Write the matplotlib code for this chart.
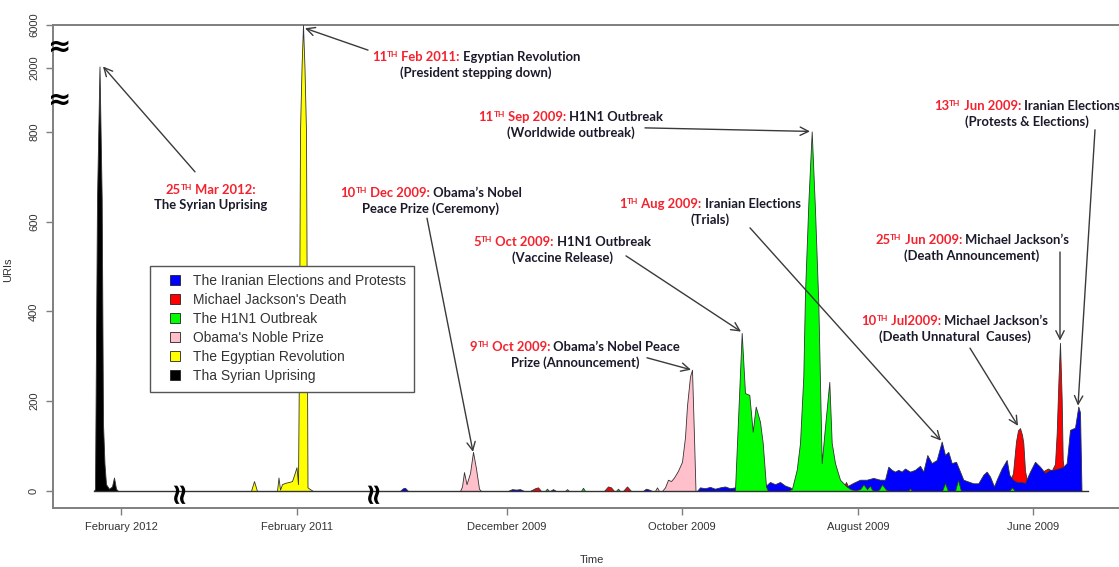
import numpy as np
import matplotlib.pyplot as plt
from matplotlib.lines import Line2D
from matplotlib.offsetbox import TextArea, HPacker, VPacker, AnnotationBbox

#---data: URIs per event, positions along the broken (reversed) time axis
syria_pos = [94, 95, 97, 99.5, 101.7, 103, 104.5, 106, 109, 112, 114, 116, 118]
syria_uris = [0, 5, 650, 2150, 650, 150, 60, 15, 5, 10, 30, 5, 0]

egypt_pos = [249, 251, 254, 257, 275, 277, 278.5, 280, 282, 285, 289, 292,
             294, 296.5, 298, 299, 300, 301.5, 303, 304.5, 306, 307.5, 310, 313]
egypt_uris = [0, 0, 22, 0, 0, 0, 30, 3, 15, 18, 20, 22,
              35, 53, 15, 300, 800, 2000, 6000, 2000, 800, 8, 4, 0]

obama_pos = [460, 462, 464, 466.5, 470, 473, 476, 479, 481,
             655, 657, 659, 662, 665, 668, 671, 674, 678, 682, 685, 687, 690, 692, 694, 695.5]
obama_uris = [0, 10, 42, 15, 40, 87, 50, 5, 0,
              0, 8, 0, 0, 8, 25, 22, 30, 45, 65, 120, 190, 255, 270, 120, 0]

h1n1_pos = [545, 547, 549, 565, 567, 569, 581, 583, 585, 616, 618, 620,
            733, 735, 741.7, 745, 749.3, 752.7, 755.7, 760, 762.7, 766, 768,
            788, 792, 796.7, 800, 803.3, 805, 808.5, 811.7, 815, 818.3, 821.7, 825, 829.3, 831.7, 835, 840,
            843, 846.7, 850, 852, 856, 860, 863.5, 867, 870, 872, 875, 879, 882, 886, 889,
            908, 910, 912, 942, 945, 948, 955, 958, 961, 1009, 1012, 1015]
h1n1_uris = [0, 5, 0, 0, 4, 0, 0, 7, 0, 0, 5, 0,
             0, 2, 352, 218, 214, 132, 188, 154, 107, 10, 0,
             0, 5, 47, 107, 255, 441, 650, 808, 626, 419, 62, 143, 243, 107, 62, 25,
             18, 10, 5, 3, 2, 4, 15, 4, 12, 3, 0, 3, 15, 3, 0,
             0, 6, 0, 0, 18, 0, 0, 25, 0, 0, 8, 0]

mj_pos = [530, 535, 538, 541, 604, 608, 611, 614, 623, 627, 631, 718, 722, 726, 842, 846, 850,
          1005, 1010, 1013, 1016, 1018, 1020, 1022, 1023.3, 1025, 1027,
          1030, 1035, 1040, 1044, 1048, 1051.7, 1055, 1056.7, 1058.5, 1060,
          1061.7, 1062.7, 1064, 1067, 1070]
mj_uris = [0, 6, 8, 0, 0, 10, 8, 0, 0, 10, 0, 0, 8, 0, 0, 20, 0,
           0, 20, 40, 110, 135, 140, 125, 107, 45, 22,
           18, 25, 30, 45, 50, 45, 60, 129, 250, 330,
           203, 69, 45, 30, 0]

iran_pos = [400, 403, 405, 408, 508, 512, 516, 520, 524, 550, 553, 556, 643, 646, 649, 652,
            697, 700, 705, 710, 715, 720, 725, 730, 735,
            765, 770, 775, 780, 785, 790, 795,
            832, 836, 840, 846.7, 853.3, 860, 866.7, 873.3, 880, 885,
            888.3, 891.7, 895, 898.3, 901.7, 905, 910, 915, 920, 923.3,
            927.3, 931.7, 936.7, 941.7, 945, 948.3, 951.7, 956, 959.3, 963.3,
            968.3, 973.3, 978.3, 983.3, 986.7, 990, 994, 996.7, 1001.7, 1006.7,
            1009.3, 1013, 1017, 1021, 1025, 1030, 1035, 1040, 1045, 1050,
            1053, 1058.3, 1063.3, 1066.7, 1070, 1075, 1078.3, 1080, 1081.5]
iran_uris = [0, 6, 7, 0, 0, 4, 3, 4, 0, 0, 4, 0, 0, 5, 3, 0,
             0, 8, 6, 9, 5, 8, 10, 6, 8,
             10, 20, 15, 20, 12, 8, 0,
             0, 10, 18, 10, 18, 25, 25, 29, 25, 25,
             54, 47, 43, 47, 43, 50, 43, 47, 56, 43,
             80, 62, 69, 110, 80, 87, 62, 65, 47, 25,
             21, 17, 17, 36, 43, 32, 10, 25, 50, 69,
             36, 25, 20, 20, 18, 43, 65, 54, 40, 47,
             47, 50, 54, 62, 136, 141, 188, 175, 0]

tick_pos = [121, 297, 507, 682, 858, 1033]
tick_labels = ['February 2012', 'February 2011', 'December 2009',
               'October 2009', 'August 2009', 'June 2009']
xbreaks = [178, 372]

# broken y axis: 0-800 linear, then 800-2000 and 2000-6000 squeezed
yv = [-1000, 800, 2000, 6000, 50000]
ys = [-1000, 800, 942, 1038, 2094]
def fwd(v):
    return np.interp(v, yv, ys)
def inv(s):
    return np.interp(s, ys, yv)

fig = plt.figure(figsize=(11.19, 5.67), dpi=100)
ax = fig.add_axes([53/1119, 59/567, 1066/1119, 483/567])
ax.set_yscale('function', functions=(fwd, inv))

# red first so blue covers it, like the original
series = [
    (mj_pos, mj_uris, '#FF0000'),
    (iran_pos, iran_uris, '#0000FF'),
    (h1n1_pos, h1n1_uris, '#00FF00'),
    (obama_pos, obama_uris, '#FFC0CB'),
    (egypt_pos, egypt_uris, '#FFFF00'),
    (syria_pos, syria_uris, '#000000'),
]
for i, (p, u, c) in enumerate(series):
    ax.fill_between(p, 0, u, facecolor=c, edgecolor='#333333', lw=0.6, zorder=2 + i)

allpos = syria_pos + iran_pos
ax.plot([min(allpos), max(allpos) + 6], [0, 0], color='#333333', lw=1, zorder=10)

ax.set_xlim(53, 1119)
ax.set_ylim(-38, 6000)

tickfont = dict(family='Liberation Sans', size=8, color='#333333')
ax.set_xticks(tick_pos)
ax.set_xticklabels(tick_labels, fontdict=tickfont)
ax.set_yticks([0, 200, 400, 600, 800, 2000, 6000])
ax.set_yticklabels(['0', '200', '400', '600', '800', '2000', '6000'],
                   fontdict=tickfont, rotation=90, va='center')
ax.tick_params(axis='both', length=5, width=1, color='#7f7f7f', pad=5)
ax.yaxis.set_minor_locator(plt.NullLocator())
for s in ['left', 'bottom', 'top']:
    ax.spines[s].set_color('#7f7f7f')
    ax.spines[s].set_linewidth(1.4)
ax.spines['right'].set_visible(False)

ax.set_xlabel('Time', fontdict=tickfont)
ax.xaxis.set_label_coords(0.5056, -0.098)
ax.set_ylabel('URIs', fontdict=tickfont)
ax.yaxis.set_label_coords(-0.0375, 0.493)

# axis break marks
for b in [(ys[1] + ys[2]) / 2, (ys[2] + ys[3]) / 2]:
    ax.text(0.0066, inv(b), '\u2248', transform=ax.get_yaxis_transform(), fontsize=20,
            fontweight='bold', ha='center', va='center', clip_on=False, zorder=12)
for b in xbreaks:
    ax.text(b, 0, '\u2248', fontsize=21, fontweight='bold', rotation=90,
            ha='center', va='center', zorder=12)

# legend
names = ['The Iranian Elections and Protests', "Michael Jackson's Death", 'The H1N1 Outbreak',
         "Obama's Noble Prize", 'The Egyptian Revolution', 'Tha Syrian Uprising']
colors = ['#0000FF', '#FF0000', '#00FF00', '#FFC0CB', '#FFFF00', '#000000']
handles = [Line2D([], [], marker='s', linestyle='none', markersize=7, markerfacecolor=c,
                  markeredgecolor='#222222', markeredgewidth=0.6) for c in colors]
leg = ax.legend(handles, names, loc='upper left', bbox_to_anchor=(0.091, 0.501),
                prop=dict(family='Liberation Sans', size=10), labelcolor='#333333',
                fancybox=False, framealpha=1, edgecolor='#555555', handlelength=2.4,
                labelspacing=0.36, borderpad=0.6, handletextpad=0.1,
                borderaxespad=0)
leg.get_frame().set_linewidth(1)
leg.set_zorder(20)

# annotations: (day, month-year, title, second line, text centre, arrow start, arrow tip)
red = '#F5222D'
ink = '#1A1A2A'
notes = [
    ('25', ' Mar 2012:', '', 'The Syrian Uprising', (211, 0.643), (195, 0.696), (103, 2150)),
    ('11', ' Feb 2011:', ' Egyptian Revolution', '(President stepping down)', (476, 0.918), (368, 0.948), (305, 5700)),
    ('11', ' Sep 2009:', ' H1N1 Outbreak', '(Worldwide outbreak)', (571, 0.793), (645, 0.787), (810, 808)),
    ('10', ' Dec 2009:', ' Obama\u2019s Nobel', 'Peace Prize (Ceremony)', (431, 0.635), (427, 0.600), (473, 87)),
    ('1', ' Aug 2009:', ' Iranian Elections', '(Trials)', (710, 0.613), (750, 0.580), (941, 112)),
    ('5', ' Oct 2009:', ' H1N1 Outbreak', '(Vaccine Release)', (562, 0.534), (626, 0.522), (741, 355)),
    ('9', ' Oct 2009:', ' Obama\u2019s Nobel Peace', 'Prize (Announcement)', (575, 0.317), (647, 0.311), (691, 270)),
    ('13', ' Jun 2009:', ' Iranian Elections', '(Protests & Elections)', (1027, 0.816), (1095, 0.783), (1078, 190)),
    ('25', ' Jun 2009:', ' Michael Jackson\u2019s', '(Death Announcement)', (972, 0.538), (1060, 0.530), (1060, 335)),
    ('10', ' Jul2009:', ' Michael Jackson\u2019s', '(Death Unnatural  Causes)', (955, 0.371), (970, 0.331), (1018, 145)),
]
fs = 9.4
big = dict(family='Lato', weight='bold', size=fs)
for day, rest, title, sub, centre, start, tip in notes:
    parts = [TextArea(day, textprops=dict(color=red, **big)),
             TextArea('TH', textprops=dict(color=red, family='Lato', weight='bold', size=6)),
             TextArea(rest, textprops=dict(color=red, **big))]
    if title:
        parts.append(TextArea(title, textprops=dict(color=ink, **big)))
    line1 = HPacker(children=parts, align='top', pad=0, sep=0)
    line2 = TextArea(sub, textprops=dict(color=ink, **big))
    box = VPacker(children=[line1, line2], align='center', pad=0, sep=2.5)
    ab = AnnotationBbox(box, centre, xycoords=('data', 'axes fraction'), frameon=False,
                        box_alignment=(0.5, 0.5), pad=0, annotation_clip=False, zorder=15)
    ax.add_artist(ab)
    ax.annotate('', xy=tip, xycoords='data', xytext=start, textcoords=('data', 'axes fraction'),
                arrowprops=dict(arrowstyle='->,head_length=0.6,head_width=0.3', color='#3a3a3a',
                                lw=1, shrinkA=0, shrinkB=0), zorder=14)

fig.savefig('out.png', dpi=100)
